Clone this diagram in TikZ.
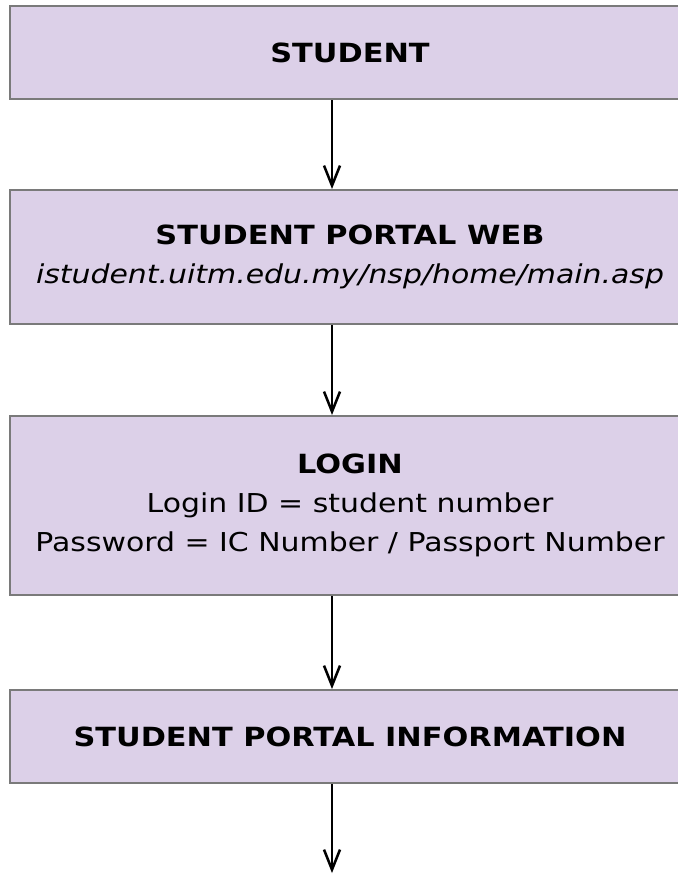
\documentclass[tikz,border=0pt]{standalone}
\usepackage{fontspec}
\setmainfont{DejaVu Sans}[FakeStretch=1.15]
\usepackage{tikz}
\usetikzlibrary{arrows.meta}

\definecolor{boxfill}{HTML}{DCD0E8}
\definecolor{boxline}{HTML}{7A7A7A}
\newcommand{\boxhead}[1]{{\fontsize{19.8}{29.5}\selectfont\bfseries #1}}

\begin{document}
\begin{tikzpicture}[->,>={Straight Barb[length=15pt,width=12pt]}
	,x=0.75pt,y=-0.75pt
	,line width=1.9pt
	,font=\fontsize{19.5}{29.5}\selectfont]
  \tikzstyle{portal box}=[draw=boxline,fill=boxfill,line width=1.5pt
	,rectangle,minimum width=680*0.75pt,align=center,inner sep=0pt]

  \useasboundingbox (0,0) rectangle (678,875);

      %4 boxes top to bottom
      \node[portal box,minimum height=93*0.75pt](student) at (350,52.5)
      	{\boxhead{STUDENT}};
      \node[portal box,minimum height=134*0.75pt](web) at (350,257)
      	{\boxhead{STUDENT PORTAL WEB}\\ \textit{istudent.uitm.edu.my/nsp/home/main.asp}};
      \node[portal box,minimum height=179*0.75pt](login) at (350,505.5)
      	{\boxhead{LOGIN}\\ Login ID = student number\\ Password = IC Number / Passport Number};
      \node[portal box,minimum height=93*0.75pt](info) at (350,736.5)
      	{\boxhead{STUDENT PORTAL INFORMATION}};
      %arrow line and loose end
      \coordinate (axis) at (332,0);
      \coordinate (out) at (332,873);

  \path
 	(student.south -| axis) edge (web.north -| axis)
 	(web.south -| axis) edge (login.north -| axis)
 	(login.south -| axis) edge (info.north -| axis)
 	(info.south -| axis) edge (out);

\end{tikzpicture}
\end{document}
